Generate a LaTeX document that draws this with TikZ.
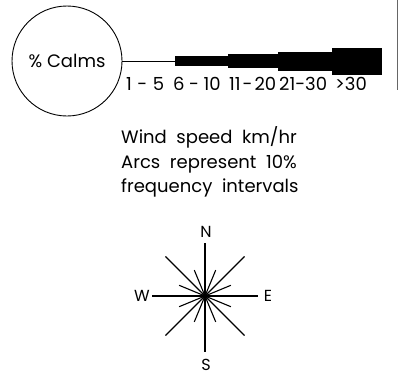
\documentclass[tikz,border=0pt]{standalone}
\usepackage{fontspec}
\setmainfont{Poppins}
\newcommand\sep[1]{\hspace{#1pt}}
\begin{document}
\begin{tikzpicture}[x=1pt,y=-1pt,
  txt/.style={inner sep=0pt,anchor=base west,font=\fontsize{18}{25}\selectfont},
  lbl/.style={inner sep=0pt,anchor=base west,font=\fontsize{18}{18}\selectfont},
  dir/.style={inner sep=0pt,font=\fontsize{16}{16}\selectfont},
  bar/.style={fill=black,draw=none,inner sep=0pt,outer sep=0pt,minimum width=#1},
  spoke/.style={line width=1.1pt},
  short/.style={line width=1.1pt}]
\useasboundingbox (0,0) rectangle (399,378);
% calms circle
\node[draw,circle,line width=0.9pt,minimum size=110pt,inner sep=0pt,
      font=\fontsize{18}{18}\selectfont] (calm) at (67,61) {\% Calms};
% bars
\node[bar=53pt,minimum height=10pt] (b1) at (201.5,61) {};
\node[bar=50pt,minimum height=14pt] (b2) at (253,61) {};
\node[bar=54pt,minimum height=19pt] (b3) at (305,61.5) {};
\node[bar=50pt,minimum height=27pt] (b4) at (357,61) {};
\draw[line width=0.7pt] (calm.east) -- (b1.west);
% speed labels
\node[lbl] (l1) at (126,90) {1\sep{5.5}-\sep{5.5}5};
\node[lbl] (l2) at (173,90) {6\sep{4.5}-\sep{4.5}10};
\node[lbl] (l3) at (229,90) {11\sep{2}-\sep{2}20};
\node[lbl] (l4) at (279,90) {21-30};
\node[lbl] (l5) at (335,90) {>30};
% description
\node[txt] (t1) at (121,143) {Wind\ \ speed\ \ km/hr};
\node[txt] (t2) at (121,168) {Arcs\ \ represent\ \ 10\%};
\node[txt] (t3) at (121,192) {frequency\ \ intervals};
% compass
\coordinate (c) at (205,296);
\draw[spoke] (c) -- ++(0,-53) coordinate (nn);
\draw[spoke] (c) -- ++(0,56) coordinate (ss);
\draw[spoke] (c) -- ++(-53,0) coordinate (ww);
\draw[spoke] (c) -- ++(53,0) coordinate (ee);
\foreach \a in {45,135,225,315}{\draw[spoke] (c) -- ++(\a:56);}
\foreach \a in {22.5,67.5,112.5,157.5,202.5,247.5,292.5,337.5}{\draw[short] (c) -- ++(\a:28);}
\fill (c) circle (3pt);
\node[dir] (N) at (206,232) {N};
\node[dir] (S) at (206,365) {S};
\node[dir] (W) at (142,296) {W};
\node[dir] (E) at (268,296) {E};
% right border trace
\draw[line width=0.6pt,black!60] (397.5,0) -- (397.5,90);
\end{tikzpicture}
\end{document}
